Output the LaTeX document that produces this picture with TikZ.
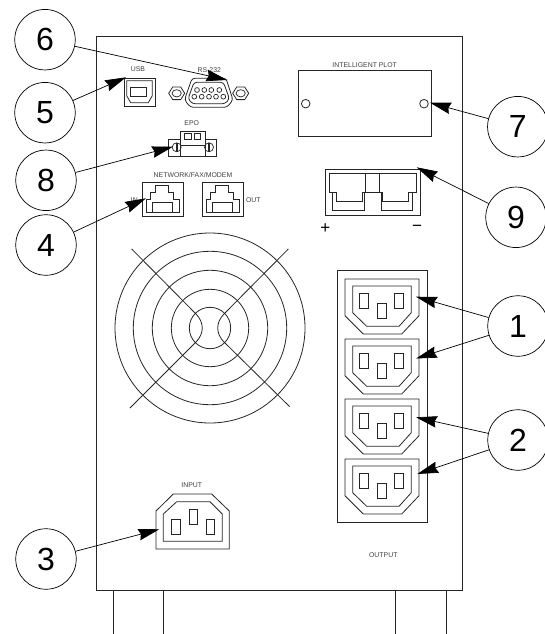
\documentclass[tikz,border=0pt]{standalone}
\usepackage{fontspec}
\setmainfont{Liberation Sans}
\usetikzlibrary{arrows.meta}
\tikzset{
  ln/.style={draw=black!85,line width=0.8pt,line join=miter},
  thinln/.style={draw=black!85,line width=0.7pt},
  callout/.style={circle,draw=black,line width=0.7pt,minimum size=60.5pt,inner sep=0pt,font=\fontsize{32}{32}\selectfont},
  tag/.style={inner sep=0pt,text=black!75,font=\fontsize{6.9}{7}\selectfont},
  sign/.style={inner sep=0pt,font=\fontsize{17}{17}\selectfont},
  pointer/.style={draw=black,line width=0.7pt,-{Stealth[length=21pt,width=11.5pt,inset=2pt]}}
}
\newcommand{\outsocket}[1]{%
  \begin{scope}[shift={(0,#1)}]
    \draw[ln] (345,279) -- (419,279) -- (419,315.7) -- (401.7,334) -- (363.3,334) -- (345,315.7) -- cycle;
    \draw[ln] (352.7,286) -- (411.3,286) -- (411.3,312.7) -- (399,326.3) -- (366.7,326.3) -- (352.7,312.7) -- cycle;
    \draw[ln] (359.7,293.3) rectangle (368.3,308.3);
    \draw[ln] (394.7,293.3) rectangle (403.3,308.3);
    \draw[ln] (377.7,303.3) rectangle (386,318.3);
  \end{scope}}
\newcommand{\rjport}[1]{%
  \begin{scope}[shift={(#1,0)}]
    \draw[ln] (142,182.3) rectangle (183.3,216.7);
    \draw[ln] (146.7,212.7) -- (146.7,199.3) -- (150,199.3) -- (150,192.3) -- (155.7,192.3) -- (155.7,185) -- (168.3,185) -- (168.3,192.3) -- (173.3,192.3) -- (173.3,199.3) -- (179,199.3) -- (179,212.7) -- cycle;
    \draw[ln] (152.3,212.7) -- (152.3,202.7) -- (172.3,202.7) -- (172.3,212.7);
  \end{scope}}
\begin{document}
\begin{tikzpicture}[x=1pt,y=-1pt]
\useasboundingbox (0,0) rectangle (545,634);
\clip (0,0) rectangle (545,634);
% body and feet
\draw[ln,line width=0.9pt] (96.7,36) rectangle (462.3,590.3);
\draw[ln] (113,590.3) -- (113,634);
\draw[ln] (163.3,590.3) -- (163.3,634);
\draw[ln] (395.3,590.3) -- (395.3,634);
\draw[ln] (446,590.3) -- (446,634);
% USB
\node[tag] (lusb) at (138,69.3) {USB};
\draw[ln] (124,78) rectangle (155,106.5);
\draw[ln] (126.7,80.7) -- (152.3,80.7) -- (152.3,95.7) -- (148.3,102.7) -- (130.7,102.7) -- (126.7,95.7) -- cycle;
\draw[ln] (130.7,87.3) rectangle (146,96);
% RS-232
\node[tag] (lrs) at (209.3,70) {RS-232};
\draw[ln,rounded corners=3pt] (192,78.3) -- (226,78.3) -- (233,100) -- (227,107.3) -- (190.5,107.3) -- (184.5,100) -- cycle;
\draw[ln,rounded corners=3pt] (194,82.3) -- (223.5,82.3) -- (229.5,99) -- (225,103.8) -- (192.5,103.8) -- (188,99) -- cycle;
\foreach \px in {197,204.3,211.3,219.3} \draw[thinln] (\px,90) circle[radius=2.4pt];
\foreach \px in {194.3,201.7,209,216,223.3} \draw[thinln] (\px,96.7) circle[radius=2.4pt];
\foreach \px in {176.7,240.7} {
  \draw[ln] (\px-8,93.3) -- (\px-4,87) -- (\px+4,87) -- (\px+8,93.3) -- (\px+4,99.6) -- (\px-4,99.6) -- cycle;
  \draw[thinln] (\px,93.3) ellipse[x radius=4.6pt,y radius=3.6pt];
}
% EPO
\node[tag] (lepo) at (191.7,122.7) {EPO};
\draw[ln] (168.7,139) rectangle (216.7,156.7);
\draw[ln,fill=white] (180.7,131.7) rectangle (205,156.7);
\draw[ln] (180.7,145) -- (205,145);
\draw[ln] (184.3,133.3) rectangle (191,139.3);
\draw[ln] (194.3,133.3) rectangle (200.7,139.3);
\foreach \px in {176.7,209} {
  \draw[thinln] (\px,147.3) circle[radius=4.5pt];
  \draw[thinln] (\px-0.8,143) -- (\px-0.8,151.6);
  \draw[thinln] (\px+0.8,143) -- (\px+0.8,151.6);
}
% network
\node[tag] (lnet) at (193,175.3) {NETWORK/FAX/MODEM};
\node[tag] (lin) at (134.3,200) {IN};
\node[tag] (lout) at (253.3,200.5) {OUT};
\rjport{0}
\rjport{60}
% intelligent slot
\node[tag] (lplot) at (364.7,64.7) {INTELLIGENT PLOT};
\draw[ln] (298.3,70.7) rectangle (431.7,136.7);
\draw[ln] (305.7,103.7) circle[radius=4.3pt];
\draw[ln] (424,103.7) circle[radius=4.3pt];
% battery connector
\draw[ln] (325.3,169) rectangle (420,215);
\draw[ln] (329.3,173.3) -- (416,173.3) -- (416,192.7) -- (408.3,192.7) -- (408.3,201) -- (382.7,201) -- (382.7,192.7) -- (379.3,192.7) -- (365.7,192.7) -- (362,192.7) -- (362,201) -- (336.7,201) -- (336.7,192.7) -- (329.3,192.7) -- cycle;
\draw[ln] (365.7,173.3) -- (365.7,192.7);
\draw[ln] (379.3,173.3) -- (379.3,192.7);
\draw[ln] (332.3,192.7) -- (332.3,210) -- (364.3,210) -- (364.3,192.7);
\draw[ln] (381,192.7) -- (381,210) -- (412.7,210) -- (412.7,192.7);
\node[sign] (lplus) at (325.3,228.5) {+};
\node[sign] (lminus) at (417,228) {−};
% fan
\foreach \r in {95,76.7,57.7,38.7,20.7} \draw[ln] (210,328) circle[radius=\r pt];
\draw[ln] (131.7,249) -- (196.5,314.5) .. controls (204.2,323) and (204.2,333) .. (196.5,341.5) -- (130,408);
\draw[ln] (288.3,249) -- (223.5,314.5) .. controls (215.8,323) and (215.8,333) .. (223.5,341.5) -- (289.5,406.5);
% output panel
\draw[ln] (337.3,270.3) rectangle (427.3,522.3);
\outsocket{0}
\outsocket{60}
\outsocket{120}
\outsocket{180}
\node[tag] (loutput) at (383.3,555.3) {OUTPUT};
% input socket
\node[tag] (linput) at (191.7,485.3) {INPUT};
\draw[ln] (173.3,494) -- (211.7,494) -- (229.3,511) -- (229.3,549) -- (156,549) -- (156,511) -- cycle;
\draw[ln] (176.7,501.7) -- (210,501.7) -- (222.3,514) -- (222.3,541.3) -- (163.3,541.3) -- (163.3,514) -- cycle;
\draw[ln] (171.7,519.3) rectangle (180,534.3);
\draw[ln] (206,519.3) rectangle (214.7,534.3);
\draw[ln] (189,509.3) rectangle (197.3,524.3);
% callouts
\node[callout] (c6) at (45,39.7) {6};
\node[callout] (c5) at (45,112.7) {5};
\node[callout] (c8) at (46,180.3) {8};
\node[callout] (c4) at (46,245) {4};
\node[callout] (c3) at (46,559) {3};
\node[callout] (c7) at (517.8,126.7) {7};
\node[callout] (c9) at (516,217.3) {9};
\node[callout] (c1) at (518,326) {1};
\node[callout] (c2) at (518,440) {2};
% arrow tips
\coordinate (t6) at (227.3,80);
\coordinate (t5) at (126,77.3);
\coordinate (t8) at (173,146.7);
\coordinate (t4) at (146,198.3);
\coordinate (t3) at (159.3,529.3);
\coordinate (t7) at (430,102.7);
\coordinate (t9) at (416.7,167.3);
\coordinate (t1a) at (416,296.7);
\coordinate (t1b) at (416,358.5);
\coordinate (t2a) at (416,417.3);
\coordinate (t2b) at (417.3,474);
\foreach \a/\b in {c6/t6,c5/t5,c8/t8,c4/t4,c3/t3,c7/t7,c9/t9,c1/t1a,c1/t1b,c2/t2a,c2/t2b}
  \draw[pointer] (\a) -- (\b);
\end{tikzpicture}
\end{document}
